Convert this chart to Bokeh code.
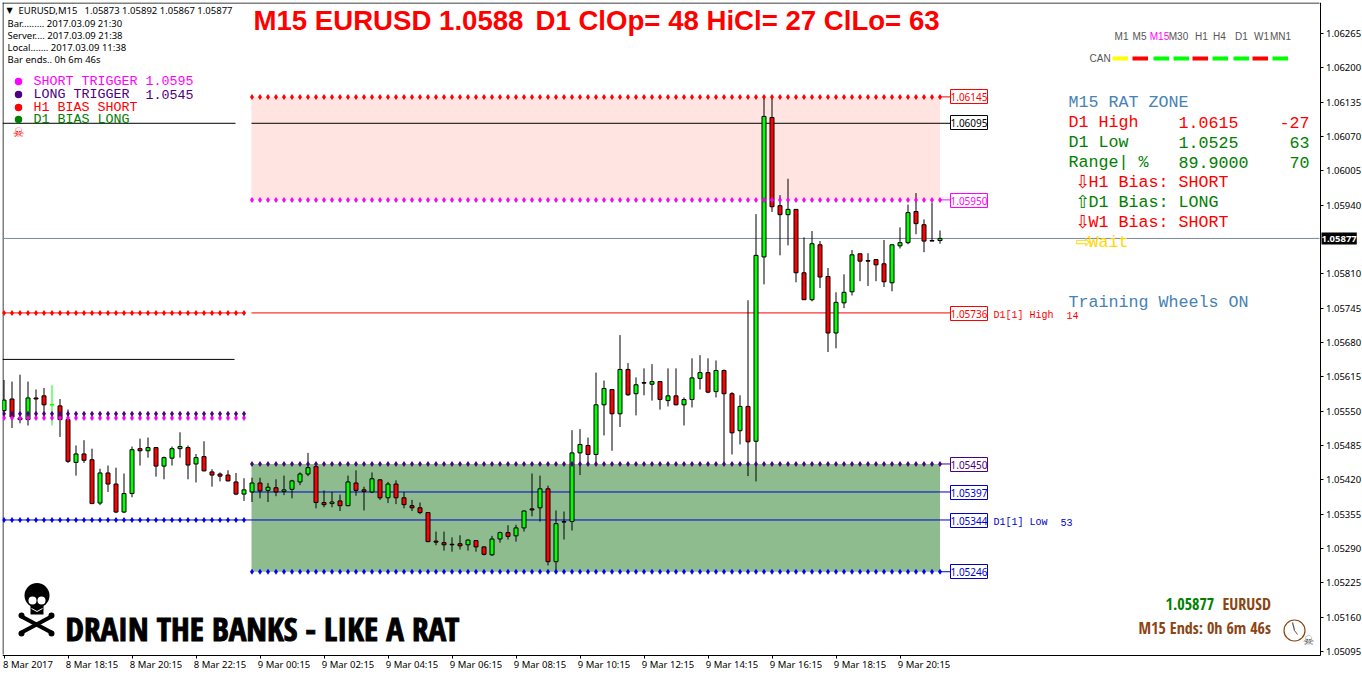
from bokeh.plotting import figure
from bokeh.models import Label, FixedTicker, NumeralTickFormatter, Range1d
from bokeh.embed import file_html
from bokeh.resources import INLINE

# ---------- data (price in 1e-5 points, one entry per M15 bar) ----------
high_pts = [105609,105606,105619,105606,105591,105594,105599,105573,105553,105485,
105495,105479,105441,105447,105443,105432,105483,105498,105500,105482,
105464,105483,105510,105485,105469,105493,105440,105434,105438,105433,
105423,105424,105424,105414,105421,105428,105420,105434,105471,105452,
105400,105397,105392,105428,105438,105407,105434,105421,105416,105419,
105397,105382,105377,105358,105322,105322,105311,105315,105307,105305,
105294,105314,105322,105334,105335,105362,105432,105428,105409,105362,
105360,105514,105516,105500,105623,105608,105591,105694,105641,105614,
105631,105639,105606,105631,105631,105576,105650,105656,105650,105646,
105629,105586,105580,105760,105923,106143,106143,105959,105990,105932,
105879,105891,105872,105821,105775,105809,105855,105848,105849,105838,
105874,105865,105898,105941,105963,105913,105945,105892]
low_pts = [105545,105518,105527,105523,105545,105545,105523,105501,105452,105428,
105452,105375,105372,105397,105357,105357,105387,105447,105462,105426,
105421,105447,105462,105421,105415,105436,105407,105417,105417,105391,
105380,105378,105385,105378,105389,105391,105385,105410,105427,105366,
105368,105368,105361,105370,105390,105362,105395,105382,105376,105374,
105366,105361,105355,105302,105296,105286,105284,105288,105286,105284,
105277,105276,105301,105307,105303,105322,105351,105341,105258,105248,
105307,105324,105429,105451,105449,105504,105475,105520,105579,105542,
105580,105570,105553,105559,105561,105523,105557,105591,105584,105576,
105447,105468,105487,105427,105417,105790,105927,105845,105864,105794,
105761,105758,105783,105662,105669,105745,105769,105796,105787,105796,
105785,105777,105858,105866,105885,105851,105872,105867]
open_pts = [105551,105573,105537,105534,105575,105579,105562,105560,105534,105453,
105469,105458,105376,105433,105412,105359,105394,105479,105475,105481,
105446,105461,105479,105481,105450,105464,105435,105431,105429,105416,
105393,105397,105414,105400,105405,105398,105402,105416,105431,105445,
105377,105375,105380,105371,105414,105401,105397,105420,105386,105412,
105386,105371,105367,105358,105304,105301,105298,105299,105297,105305,
105293,105278,105308,105320,105314,105329,105365,105367,105403,105265,
105341,105341,105471,105485,105468,105562,105591,105545,105629,105583,
105604,105601,105606,105570,105579,105562,105572,105612,105623,105587,
105627,105583,105513,105559,105493,105842,106106,105939,105922,105932,
105812,105761,105865,105805,105698,105755,105776,105848,105835,105837,
105829,105793,105863,105869,105928,105903,105873,105873]
close_pts = [105571,105539,105534,105575,105573,105562,105562,105534,105455,105469,
105457,105375,105433,105412,105359,105394,105477,105475,105481,105446,
105462,105479,105483,105448,105462,105437,105429,105427,105418,105393,
105401,105414,105399,105406,105397,105401,105418,105431,105443,105377,
105373,105378,105371,105416,105400,105398,105422,105386,105412,105386,
105373,105367,105358,105303,105302,105297,105297,105295,105306,105293,
105279,105308,105320,105313,105329,105361,105363,105403,105265,105337,
105340,105471,105487,105468,105562,105593,105545,105629,105581,105600,
105603,105606,105572,105579,105562,105572,105613,105623,105586,105627,
105583,105509,105559,105492,105845,106108,105937,105922,105932,105812,
105761,105867,105804,105698,105756,105775,105846,105834,105834,105827,
105795,105865,105869,105926,105905,105872,105872,105877]

date_labels = ["8 Mar 2017","8 Mar 18:15","8 Mar 20:15","8 Mar 22:15","9 Mar 00:15","9 Mar 02:15",
               "9 Mar 04:15","9 Mar 06:15","9 Mar 08:15","9 Mar 10:15","9 Mar 12:15","9 Mar 14:15",
               "9 Mar 16:15","9 Mar 18:15","9 Mar 20:15"]
price_ticks = [1.06265,1.06200,1.06135,1.06070,1.06005,1.05940,1.05810,1.05745,1.05680,1.05615,
               1.05550,1.05485,1.05420,1.05355,1.05290,1.05225,1.05160,1.05095]
SHORT_HI, SHORT_LO = 1.06145, 1.05950
LONG_HI, LONG_LO = 1.05450, 1.05246
LAST = 1.05877
MID_TOP, D1_HIGH, MID_BLUE, D1_LOW = 1.06095, 1.05736, 1.05397, 1.05344
OLD_BLACK, OLD_PURPLE, OLD_MAGENTA = 1.05648, 1.05545, 1.05537
tf_names = ["M1","M5","M15","M30","H1","H4","D1","W1","MN1"]
tf_states = ["yellow","#ff0000","#00ff00","#00ff00","#ff0000","#00ff00","#00ff00","#ff0000","#00ff00"]

# ---------- page geometry ----------
LEFT, TOP, RIGHT, BOTTOM = 2, 2, 1319, 654
W, H = 1362, 675
ys = lambda py: 1.06265 - (py - 33) / 52820.0          # page y -> price
xs = lambda px: (px - 3.5) / 8.0                        # page x -> bar index

p = figure(width=W, height=H, output_backend="svg", toolbar_location=None,
           x_range=Range1d(xs(LEFT), xs(W)), y_range=Range1d(ys(H), ys(TOP)),
           y_axis_location="right", min_border_left=LEFT, min_border_top=TOP,
           min_border_right=0, min_border_bottom=0,
           background_fill_color="white", border_fill_color="white")
p.styles = {"position": "absolute", "left": "0px", "top": "0px"}
p.grid.visible = False
p.outline_line_color = None

AXF = "Noto Sans"
yax = p.yaxis[0]
yax.fixed_location = xs(RIGHT + 0.5)
yax.bounds = (ys(BOTTOM + 0.5), ys(TOP))
yax.ticker = FixedTicker(ticks=price_ticks)
yax.formatter = NumeralTickFormatter(format="0.00000")
yax.major_tick_out = 3; yax.major_tick_in = 0; yax.minor_tick_out = 0; yax.minor_tick_in = 0
yax.major_label_standoff = 3
yax.major_label_text_font = AXF; yax.major_label_text_font_size = "9.5px"; yax.major_label_text_color = "black"
yax.axis_line_color = "black"

xax = p.xaxis[0]
xax.fixed_location = ys(BOTTOM + 0.5)
xax.bounds = (xs(LEFT), xs(RIGHT + 0.5))
tick_k = [8*i for i in range(len(date_labels))]
xax.ticker = FixedTicker(ticks=[k + 3 for k in tick_k], minor_ticks=tick_k)
xax.major_label_overrides = {k + 3: s for k, s in zip(tick_k, date_labels)}
xax.major_tick_line_color = None
xax.major_tick_out = 0; xax.major_tick_in = 0
xax.minor_tick_out = 3; xax.minor_tick_in = 0; xax.minor_tick_line_color = "black"
xax.major_label_standoff = 0
xax.major_label_text_font = AXF; xax.major_label_text_font_size = "9.5px"; xax.major_label_text_color = "black"
xax.axis_line_color = "black"

# spines
p.segment(x0=xs(LEFT), x1=xs(RIGHT), y0=ys(TOP + 0.5), y1=ys(TOP + 0.5), line_color="black")
p.segment(x0=xs(LEFT + 0.5), x1=xs(LEFT + 0.5), y0=ys(TOP), y1=ys(BOTTOM), line_color="black")

# ---------- zones ----------
p.quad(left=xs(251), right=117, top=SHORT_HI, bottom=SHORT_LO, fill_color="#FFE4E1", line_color=None)
p.quad(left=xs(251), right=117, top=LONG_HI, bottom=LONG_LO, fill_color="#8FBC8F", line_color=None)

# ---------- horizontal lines ----------
def hline(x0, x1, y, c, w=1):
    p.segment(x0=xs(x0), x1=xs(x1), y0=y, y1=y, line_color=c, line_width=w)
hline(LEFT, 235, MID_TOP, "black"); hline(251, 950, MID_TOP, "black")
hline(LEFT, 245, D1_HIGH, "#ff0000"); hline(251, 950, D1_HIGH, "#ff0000")
hline(LEFT, 234, OLD_BLACK, "black")
hline(LEFT, 950, D1_LOW, "#0000cd"); hline(251, 950, MID_BLUE, "#0000cd")
hline(939, 950, SHORT_HI, "#ff0000"); hline(939, 950, SHORT_LO, "#ff00ff")
hline(939, 950, LONG_HI, "#4b0082"); hline(939, 950, LONG_LO, "#0000cd")
hline(LEFT, RIGHT, LAST, "#778899")

# ---------- candles ----------
n = len(open_pts)
K = list(range(n))
O = [v/1e5 for v in open_pts]; C = [v/1e5 for v in close_pts]
Hi = [v/1e5 for v in high_pts]; Lo = [v/1e5 for v in low_pts]
flat = [a == b for a, b in zip(open_pts, close_pts)]
p.segment(x0=K, x1=K, y0=Lo, y1=Hi, line_width=1,
          line_color=["#00ff00" if f else "black" for f in flat])
p.vbar(x=K, width=0.5, top=[max(a, b) for a, b in zip(O, C)], bottom=[min(a, b) for a, b in zip(O, C)],
       fill_color=["#00ff00" if c > o else "#ff0000" for o, c in zip(open_pts, close_pts)],
       line_color=["#00ff00" if f else "black" for f in flat], line_width=1)

# ---------- arrow dots ----------
def dots(k0, k1, y, c):
    ks = list(range(k0, k1 + 1))
    p.scatter(x=ks, y=[y]*len(ks), marker="diamond", size=6, fill_color=c, line_color=None)
dots(31, 117, SHORT_HI, "#ff0000"); dots(31, 117, SHORT_LO, "#ff00ff")
dots(31, 117, LONG_HI, "#4b0082"); dots(31, 117, LONG_LO, "#0000ff")
dots(0, 30, D1_HIGH, "#ff0000"); dots(0, 30, OLD_MAGENTA, "#ff00ff")
dots(0, 30, OLD_PURPLE, "#4b0082"); dots(0, 30, D1_LOW, "#0000ff")

# ---------- text helper ----------
def T(x, y, s, color="black", size=9.5, font="Noto Sans", style="normal", align="left", **kw):
    p.add_layout(Label(x=x-LEFT, y=H-y, x_units="screen", y_units="screen", text=s,
                       text_color=color, text_font=font, text_font_size=f"{size}px",
                       text_font_style=style, text_align=align, text_baseline="middle", **kw))

# header
T(6, 10, "▼", size=8, font="DejaVu Sans")
T(18, 10, "EURUSD,M15"); T(84, 10, "1.05873 1.05892 1.05867 1.05877")
for yy, s in zip([23, 35, 47, 59], ["Bar......... 2017.03.09 21:30", "Server.... 2017.03.09 21:38",
                                    "Local....... 2017.03.09 11:38", "Bar ends.. 0h 6m 46s"]):
    T(7, yy, s)

# title
T(253, 19.5, "M15 EURUSD 1.0588", "#ff0000", 27.6, "Liberation Sans", "bold")
T(535, 19.5, "D1 ClOp= 48 HiCl= 27 ClLo= 63", "#ff0000", 27.6, "Liberation Sans", "bold")

# legend
MONO = "Liberation Mono"
leg = [("SHORT TRIGGER 1.0595", "#ff00ff", 81), ("LONG TRIGGER", "#4b0082", 94),
       ("H1 BIAS SHORT", "#ff0000", 107), ("D1 BIAS LONG", "#008000", 119)]
for s, c, yy in leg:
    p.scatter(x=[xs(18)], y=[ys(yy)], marker="circle", size=7.5, fill_color=c, line_color=None)
    T(33, yy, s, c, 13.33, MONO)
T(145, 94, "1.0545", "#4b0082", 13.33, MONO)
T(18, 132, "☠", "#ff0000", 13, "DejaVu Sans", align="center")

# timeframes
for cx, s in zip([1121,1139,1159,1178,1201,1219,1241,1261,1280], tf_names):
    T(cx, 36, s, "#ff00ff" if s == "M15" else "#555555", 10, "Liberation Sans", align="center")
T(1089, 58, "CAN", "#555555", 10, "Liberation Sans")
for x0, c in zip([1112,1132,1153,1173,1192,1212,1233,1252,1272], tf_states):
    p.segment(x0=xs(x0), x1=xs(x0+15.5), y0=ys(58), y1=ys(58), line_color=c, line_width=4)

# right panel
BL, RD, GR = "#4682B4", "#ff0000", "#008000"
T(1068, 102, "M15 RAT ZONE", BL, 16.67, MONO)
T(1068, 122, "D1 High", RD, 16.67, MONO); T(1178, 122, "1.0615", RD, 16.67, MONO); T(1309, 122, "-27", RD, 16.67, MONO, align="right")
T(1068, 142, "D1 Low", GR, 16.67, MONO);  T(1178, 142, "1.0525", GR, 16.67, MONO); T(1309, 142, "63", GR, 16.67, MONO, align="right")
T(1068, 162, "Range| %", GR, 16.67, MONO); T(1178, 162, "89.9000", GR, 16.67, MONO); T(1309, 162, "70", GR, 16.67, MONO, align="right")
for yy, a, s, c in [(182, "⇩", "H1 Bias: SHORT", RD), (202, "⇧", "D1 Bias: LONG", GR), (222, "⇩", "W1 Bias: SHORT", RD)]:
    T(1075, yy-1, a, c, 18, "DejaVu Sans"); T(1088, yy, s, c, 16.67, MONO)
T(1075, 241, "⇨", "#FFD700", 18, "DejaVu Sans"); T(1088, 242, "Wait", "#FFD700", 16.67, MONO)
T(1068, 302, "Training Wheels ON", BL, 16.67, MONO)

# side labels on the lines
for yy, s, c in [(96, "1.06145", "#ff0000"), (122, "1.06095", "black"), (200, "1.05950", "#ff00ff"),
                 (313, "1.05736", "#ff0000"), (464, "1.05450", "#4b0082"), (492, "1.05397", "#0000cd"),
                 (520, "1.05344", "#0000cd"), (571, "1.05246", "#0000cd")]:
    p.add_layout(Label(x=950-LEFT, y=H-yy, x_units="screen", y_units="screen", text=s, text_color=c,
                       text_font="Noto Sans", text_font_size="10px", text_align="left", text_baseline="middle",
                       background_fill_color="white", border_line_color=c, padding=(0, 3)))
T(993, 315, "D1[1] High", "#ff0000", 10, MONO); T(1066, 315, "14", "#ff0000", 10, MONO)
T(993, 522, "D1[1] Low", "#0000cd", 10, MONO); T(1060, 522, "53", "#0000cd", 10, MONO)

# current price box
p.add_layout(Label(x=1321-LEFT, y=H-238, x_units="screen", y_units="screen", text="1.05877", text_color="white",
                   text_font="Noto Sans", text_font_size="9.5px", text_font_style="bold", text_align="left",
                   text_baseline="middle", background_fill_color="black", padding=(0, 3)))

# skull and crossbones mark
for (x0, y0, x1, y1) in [(21, 616, 51, 632), (21, 632, 51, 616)]:
    p.segment(x0=xs(x0), x1=xs(x1), y0=ys(y0), y1=ys(y1), line_color="black", line_width=4)
for cx, cy in [(21, 615), (21, 633), (51, 615), (51, 633)]:
    p.scatter(x=[xs(cx)], y=[ys(cy)], marker="circle", size=6, fill_color="black", line_color=None)
p.scatter(x=[xs(36.5)], y=[ys(595)], marker="circle", size=25, fill_color="black", line_color=None)
p.quad(left=xs(30), right=xs(43), top=ys(604), bottom=ys(614), fill_color="black", line_color=None)
for cx in [32, 41]:
    p.scatter(x=[xs(cx)], y=[ys(600)], marker="circle", size=8, fill_color="white", line_color=None)
p.segment(x0=[xs(31), xs(36.5)], x1=[xs(36.5), xs(42)], y0=[ys(608), ys(611)], y1=[ys(611), ys(608)],
          line_color="white", line_width=1)

COND = "Open Sans Condensed"
T(65, 628, "DRAIN THE BANKS - LIKE A RAT", "black", 33, COND, "bold", text_outline_color="black")
T(1165, 603, "1.05877", "#008000", 16, COND, "bold")
T(1222, 603, "EURUSD", "#8B4513", 16, COND, "bold")
T(1138, 627, "M15 Ends: 0h 6m 46s", "#8B4513", 16, COND, "bold")

# clock
p.scatter(x=[xs(1294)], y=[ys(630)], marker="circle", size=21, fill_color=None, line_color="#8B4513", line_width=1.2)
p.segment(x0=xs(1294), x1=xs(1292), y0=ys(630), y1=ys(622), line_color="#555555", line_width=1.2)
p.segment(x0=xs(1294), x1=xs(1297), y0=ys(630), y1=ys(634), line_color="#555555", line_width=1)
T(1308, 640, "☠", "#555555", 13, "DejaVu Sans", align="center")

open("out.html", "w").write(file_html(p, INLINE))
